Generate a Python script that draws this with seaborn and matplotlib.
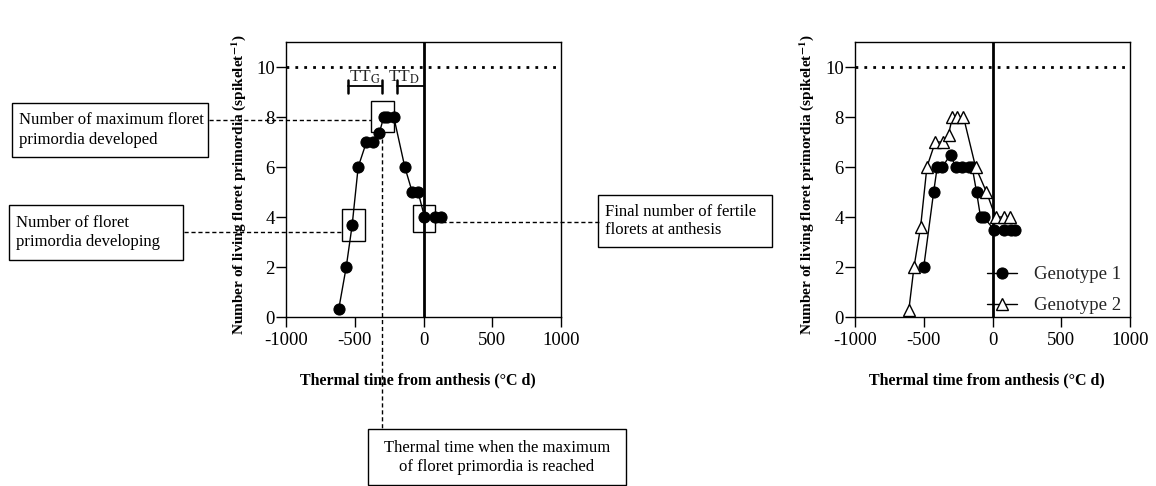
import numpy as np
import pandas as pd
import matplotlib
matplotlib.use("Agg")
import matplotlib.pyplot as plt
from matplotlib.patches import Rectangle
import seaborn as sns

# left panel: one genotype, annotated
tt_left = [-616, -562, -519, -475, -415, -366, -322, -289, -265, -216, -136, -82, -39, 7, 87, 128]
fl_left = [0.33, 2, 3.67, 6, 7, 7, 7.35, 8, 8, 8, 6, 5, 5, 4, 4, 4]

# right panel: two genotypes
tt_g1 = [-500, -428, -402, -365, -305, -269, -220, -172, -148, -116, -87, -65, 10, 82, 131, 167]
fl_g1 = [2, 5, 6, 6, 6.5, 6, 6, 6, 6, 5, 4, 4, 3.5, 3.5, 3.5, 3.5]
tt_g2 = [-608, -571, -523, -477, -416, -361, -320, -291, -259, -211, -123, -44, 22, 80, 130]
fl_g2 = [0.3, 2, 3.6, 6, 7, 7, 7.3, 8, 8, 8, 6, 5, 4, 4, 4]

x_ticks = [-1000, -500, 0, 500, 1000]
y_ticks = [0, 2, 4, 6, 8, 10]
max_spikelet = 10

xlab = "Thermal time from anthesis (°C d)"
ylab = r"Number of living floret primordia (spikelet$^{\mathbf{-1}}$)"

sns.set_theme(style="ticks")
plt.rcParams["font.family"] = ["Liberation Serif", "DejaVu Serif"]
plt.rcParams["mathtext.fontset"] = "stix"
plt.rcParams["axes.unicode_minus"] = False

W, H = 1156, 486
fig = plt.figure(figsize=(W / 100, H / 100), dpi=100)


def px_rect(x0, y0, x1, y1):
    # image pixel box (top-left origin) -> figure fraction rect
    return [x0 / W, 1 - y1 / H, (x1 - x0) / W, (y1 - y0) / H]


ax1 = fig.add_axes(px_rect(286, 42, 561, 317))
ax2 = fig.add_axes(px_rect(855, 42, 1130, 317))


def style_axis(ax):
    ax.set_xlim(-1000, 1000)
    ax.set_ylim(0, 11)
    ax.set_xticks(x_ticks)
    ax.set_yticks(y_ticks)
    ax.tick_params(axis="both", labelsize=13.5, length=7, width=1, color="black",
                   labelcolor="black", direction="out")
    ax.tick_params(axis="x", pad=4)
    ax.tick_params(axis="y", pad=1)
    for s in ax.spines.values():
        s.set_color("black")
        s.set_linewidth(1)
        s.set_visible(True)
    ax.axhline(max_spikelet, color="black", ls=(0, (1, 2.2)), lw=2, zorder=1)
    ax.axvline(0, color="black", lw=2, zorder=1)
    ax.set_xlabel(xlab, fontsize=11.5, fontweight="bold", color="black")
    ax.set_ylabel(ylab, fontsize=11, fontweight="bold", color="black")
    ax.xaxis.set_label_coords(0.48, -0.2)
    ax.yaxis.set_label_coords(-0.14, 0.48)


sns.lineplot(x=tt_left, y=fl_left, ax=ax1, color="black", lw=1, marker="o",
             markersize=8, markeredgecolor="black", estimator=None, sort=False, zorder=3)
style_axis(ax1)

sns.lineplot(x=tt_g1, y=fl_g1, ax=ax2, color="black", lw=1, marker="o",
             markersize=8, markeredgecolor="black", estimator=None, sort=False,
             label="Genotype 1", zorder=3)
sns.lineplot(x=tt_g2, y=fl_g2, ax=ax2, color="black", lw=1, marker="^",
             markersize=9, markerfacecolor="white", markeredgecolor="black",
             markeredgewidth=1, estimator=None, sort=False, label="Genotype 2", zorder=4)
style_axis(ax2)
leg = ax2.legend(loc="lower right", bbox_to_anchor=(1.0, -0.025), frameon=False,
                 fontsize=13.5, handlelength=1.6, handletextpad=0.9, borderaxespad=0.1,
                 labelspacing=0.75)

# ---- annotations on left panel ----
dash = dict(color="black", ls=(0, (3, 2)), lw=1, clip_on=False, zorder=2)
ax1.add_patch(Rectangle((-380, 7.39), 164, 1.25, fill=False, ec="black", lw=1, zorder=2))
ax1.add_patch(Rectangle((-591, 3.05), 162, 1.27, fill=False, ec="black", lw=1, zorder=2))
ax1.add_patch(Rectangle((-75, 3.39), 162, 1.09, fill=False, ec="black", lw=1, zorder=2))

# dashed leader lines (x in data units of left axis, extending out of the axes)
px2x = lambda p: (p - 423) / 0.1375
px2y = lambda p: (317 - p) / 25.0
ax1.plot([px2x(208), -380], [7.88, 7.88], **dash)
ax1.plot([px2x(183), -591], [3.39, 3.39], **dash)
ax1.plot([87, px2x(598)], [3.81, 3.81], **dash)
ax1.plot([-300, -300], [7.39, px2y(429)], **dash)

# TT_G / TT_D brackets
ax1.plot([-550, -300], [9.22, 9.22], color="black", lw=1.3)
ax1.plot([-550, -550], [8.95, 9.48], color="black", lw=1.8)
ax1.plot([-300, -300], [8.95, 9.48], color="black", lw=1.8)
ax1.plot([-191, 0], [9.22, 9.22], color="black", lw=1.3)
ax1.plot([-191, -191], [8.95, 9.48], color="black", lw=1.8)
ax1.text(-422, 9.25, r"TT$_{\mathrm{G}}$", ha="center", va="bottom", fontsize=12.5)
ax1.text(-140, 9.25, r"TT$_{\mathrm{D}}$", ha="center", va="bottom", fontsize=12.5)

# text boxes in figure pixel space
boxes = [
    ((12, 103, 208, 157), "Number of maximum floret\nprimordia developed", "left"),
    ((9, 205, 183, 260), "Number of floret\nprimordia developing", "left"),
    ((598, 195, 772, 247), "Final number of fertile\nflorets at anthesis", "left"),
    ((368, 429, 626, 485), "Thermal time when the maximum\nof floret primordia is reached", "center"),
]
for (x0, y0, x1, y1), txt, al in boxes:
    r = px_rect(x0, y0, x1, y1)
    fig.add_artist(Rectangle((r[0], r[1]), r[2], r[3], transform=fig.transFigure,
                             fill=False, ec="black", lw=1))
    tx = (x0 + 7) / W if al == "left" else (x0 + x1) / 2 / W
    ty = 1 - (y0 + y1) / 2 / H
    if al == "center":
        ty = 1 - 457 / H
    fig.text(tx, ty, txt, ha=al, va="center", fontsize=12, linespacing=1.25, color="black")

fig.savefig("out.png", dpi=100, facecolor="white")
